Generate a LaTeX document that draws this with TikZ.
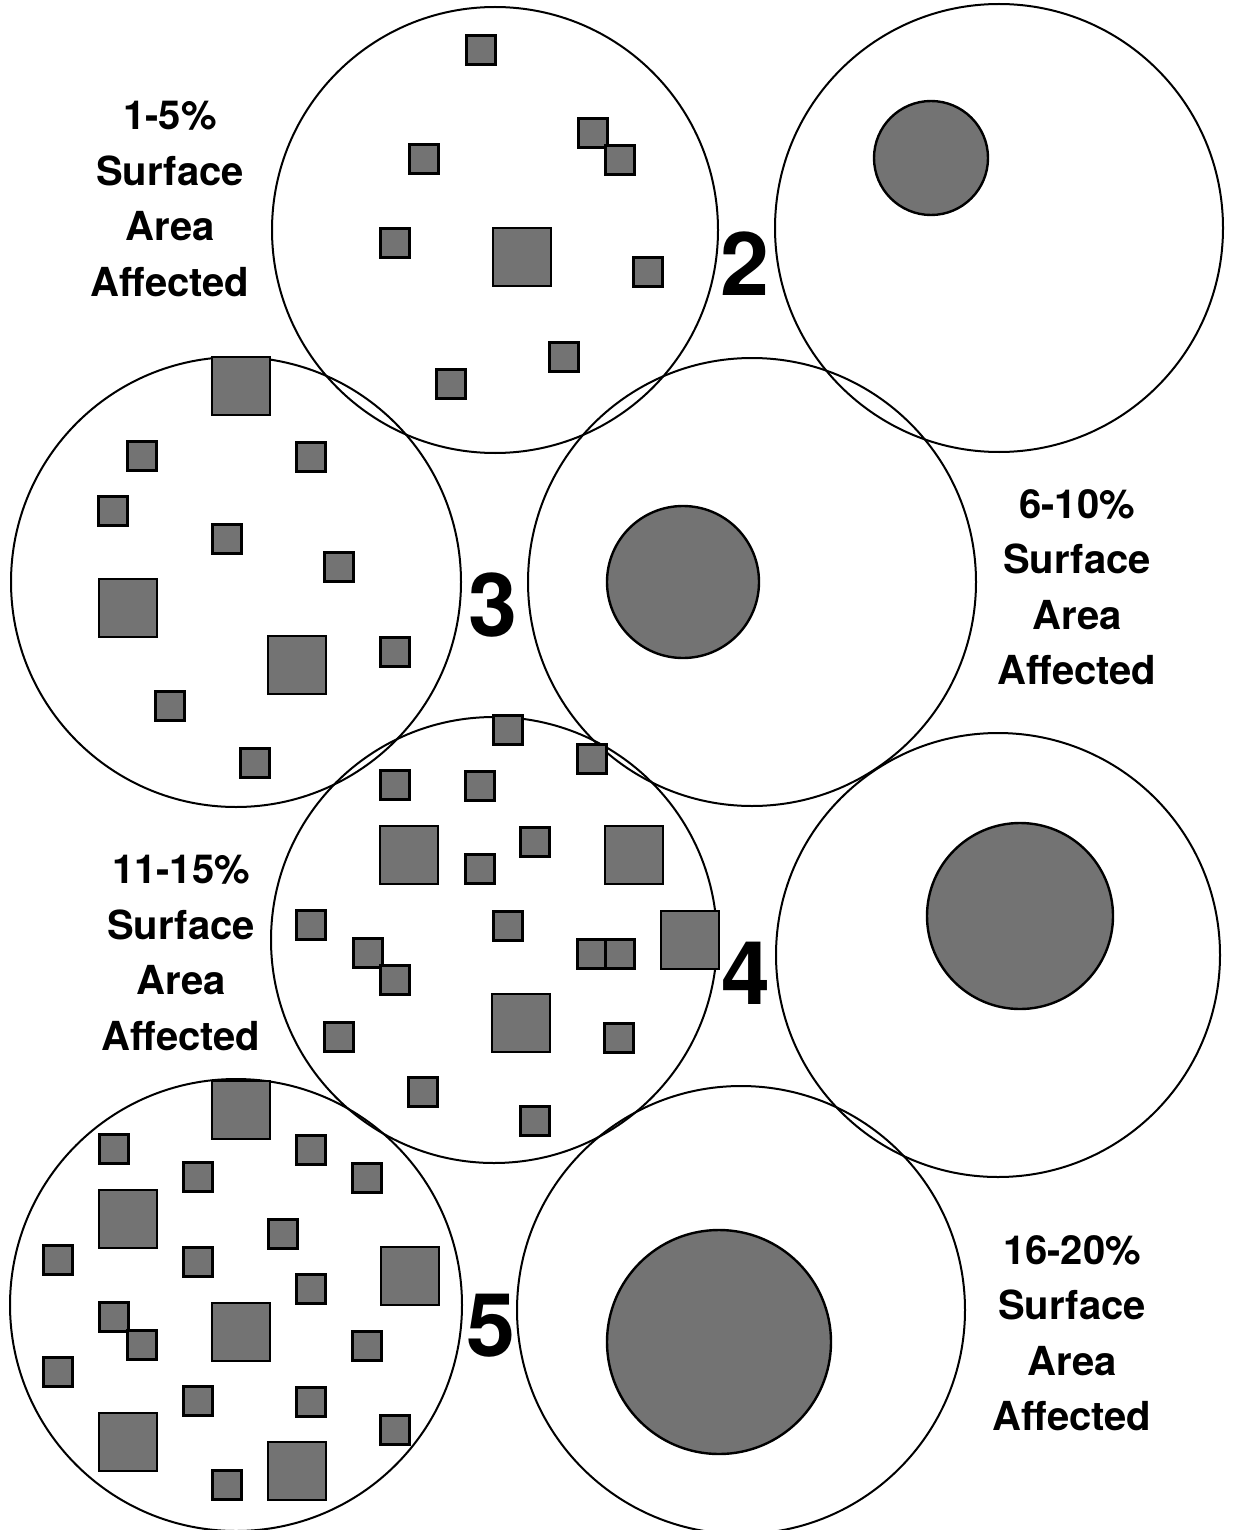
\documentclass[tikz,border=0pt]{standalone}
\usepackage{fontspec}
\setmainfont{TeX Gyre Heros}
\begin{document}
\begin{tikzpicture}[
    x=0.5pt,y=-0.5pt,
    ring/.style={draw=black,line width=1pt},
    pit/.style={draw=black,fill=black!55,line width=1.4pt},
    blob/.style={draw=black,fill=black!55,line width=1.2pt},
    tag/.style={font=\fontsize{20}{27.75}\selectfont\bfseries,align=center,inner sep=0pt},
    num/.style={font=\fontsize{44}{44}\selectfont\bfseries,inner sep=0pt}
  ]
    \useasboundingbox (0,0) rectangle (1233,1530);
    % outer rings
    \draw[ring] (495,230) circle (223);
    \draw[ring] (999,228) circle (224);
    \draw[ring] (236,582) circle (225);
    \draw[ring] (752,582) circle (224);
    \draw[ring] (494,940) circle (223);
    \draw[ring] (998,955) circle (222);
    \draw[ring] (236,1305) circle (226);
    \draw[ring] (741,1310) circle (224);
    % single spots
    \draw[blob] (931,158) circle (57);
    \draw[blob] (683,582) circle (76);
    \draw[blob] (1020,916) circle (93);
    \draw[blob] (719,1342) circle (112);
    % scattered pits, small
    \foreach \x/\y in {481/50,424/159,593/133,620/160,395/243,648/272,564/357,451/384,
                       142/456,311/457,113/511,227/539,339/567,395/652,170/706,255/763,
                       508/730,592/759,395/785,480/786,535/842,480/869,311/925,508/926,
                       592/954,620/954,368/953,395/980,339/1037,619/1038,423/1092,535/1121,
                       114/1149,311/1150,198/1177,367/1178,283/1234,58/1260,198/1262,311/1289,
                       114/1317,142/1345,367/1346,58/1372,198/1401,311/1402,395/1430,227/1485}
      \draw[pit] (\x-14.5,\y-14.5) rectangle (\x+14.5,\y+14.5);
    % scattered pits, large
    \foreach \x/\y in {522/257,241/386,128/608,297/665,409/855,634/855,690/940,521/1023,
                       241/1110,128/1219,410/1276,241/1332,128/1442,297/1471}
      \draw[pit] (\x-29,\y-29) rectangle (\x+29,\y+29);
    % labels
    \node[tag] (lblA) at (170,199) {1-5\%\\Surface\\Area\\Affected};
    \node[tag] (lblB) at (1077,587) {6-10\%\\Surface\\Area\\Affected};
    \node[tag] (lblC) at (181,953) {11-15\%\\Surface\\Area\\Affected};
    \node[tag] (lblD) at (1072,1333) {16-20\%\\Surface\\Area\\Affected};
    \node[num] (num2) at (745,264) {2};
    \node[num] (num3) at (493,605) {3};
    \node[num] (num4) at (746,973) {4};
    \node[num] (num5) at (491,1326) {5};
\end{tikzpicture}
\end{document}
